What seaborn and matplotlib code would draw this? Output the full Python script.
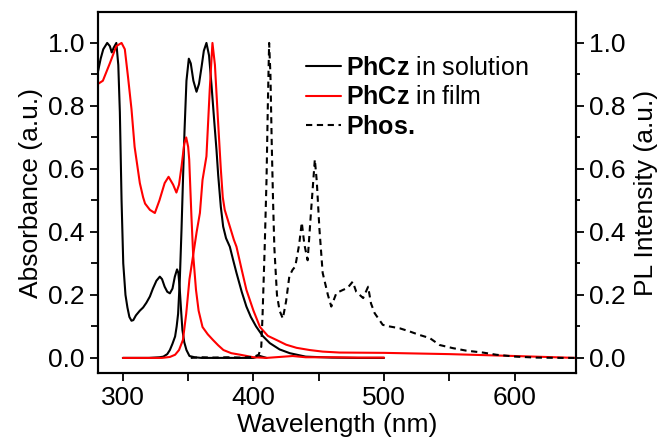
import numpy as np
import pandas as pd
import matplotlib
matplotlib.use('Agg')
import matplotlib.pyplot as plt
from matplotlib.ticker import MultipleLocator
import seaborn as sns

# PhCz 흡수 (용액)
sol_abs_x = [281, 283, 285, 288, 290, 291.5, 293, 295, 296.5, 297.7, 299, 300.3, 302, 303.5,
             305, 306.6, 308, 310, 313, 315.5, 318, 320.7, 323, 325.7, 328.3, 330, 332, 334,
             336, 338, 339.8, 341.5, 342.5, 343.6, 344.6, 345.6, 347, 348.7, 351, 355, 360,
             380, 400, 405, 410]
sol_abs_y = [0.91, 0.95, 0.98, 1.0, 0.99, 0.97, 0.985, 1.0, 0.93, 0.78, 0.5, 0.3, 0.2, 0.16,
             0.13, 0.118, 0.12, 0.135, 0.15, 0.16, 0.175, 0.195, 0.22, 0.245, 0.258, 0.25, 0.226, 0.21,
             0.205, 0.22, 0.258, 0.281, 0.27, 0.216, 0.15, 0.089, 0.05, 0.025, 0.006, 0.002, 0.0,
             0.0, 0.0, 0.006, 0.0]

# PhCz PL (용액)
sol_pl_x = [300, 320, 328, 331, 334, 336, 338, 340, 341.2, 342.3, 343.6, 344.9, 346, 347.2,
            348.7, 350.5, 352, 354, 356.4, 358.3, 360.3, 362, 364, 366, 367.8, 370, 371.7, 373,
            375, 376.8, 379, 381.9, 384.5, 387, 391, 394.6, 398, 402, 407, 412.5, 420, 427.8,
            440, 460, 480, 500]
sol_pl_y = [0.0, 0.0, 0.002, 0.004, 0.012, 0.025, 0.045, 0.068, 0.1, 0.14, 0.247, 0.406, 0.56, 0.72,
            0.88, 0.95, 0.935, 0.88, 0.845, 0.87, 0.925, 0.975, 1.0, 0.96, 0.87, 0.75, 0.66, 0.58,
            0.48, 0.417, 0.38, 0.353, 0.31, 0.27, 0.21, 0.163, 0.13, 0.1, 0.07, 0.047, 0.027, 0.015,
            0.004, 0.001, 0.0, 0.0]

# PhCz 흡수 (필름)
film_abs_x = [281, 284.7, 290, 295, 299, 301.5, 304, 306.6, 309, 313, 315.5, 317, 320.7, 324.5,
              328, 332, 335, 338.5, 341, 343, 345, 347, 348.5, 350, 350.8, 352.5, 353.8, 356,
              358, 361, 365, 369, 373, 377, 383, 390, 400, 410, 420, 430, 440, 460, 480, 500]
film_abs_y = [0.87, 0.88, 0.935, 0.99, 1.0, 0.98, 0.89, 0.79, 0.67, 0.555, 0.51, 0.49, 0.47, 0.46,
              0.5, 0.555, 0.575, 0.55, 0.525, 0.55, 0.61, 0.68, 0.70, 0.67, 0.63, 0.45, 0.33, 0.216,
              0.15, 0.098, 0.075, 0.057, 0.04, 0.025, 0.015, 0.01, 0.002, 0.0, 0.003, 0.006, 0.002, 0.002, 0.001, 0.001]

# PhCz PL (필름)
film_pl_x = [300, 330, 336, 340, 343, 346, 348.5, 351, 353.6, 356.5, 359, 361, 364, 366.5,
             368.6, 370.5, 372.7, 375, 376.5, 378, 382, 385, 387, 391, 394.6, 400, 405, 411,
             417.6, 425, 433, 443, 453, 466, 500, 550, 600, 647]
film_pl_y = [0.0, 0.0, 0.003, 0.01, 0.025, 0.057, 0.14, 0.25, 0.32, 0.4, 0.46, 0.565, 0.64, 0.85,
             1.0, 0.93, 0.765, 0.6, 0.51, 0.47, 0.416, 0.375, 0.353, 0.28, 0.216, 0.15, 0.098, 0.07,
             0.057, 0.042, 0.032, 0.025, 0.02, 0.017, 0.016, 0.012, 0.006, 0.0]

# 인광 (Phos.)
phos_x = [352, 360, 370, 380, 390, 400, 404, 406, 407, 408.6, 410, 411, 412, 413, 414, 415,
          416, 418, 420, 422.5, 425, 427.5, 430, 432, 435, 437, 439, 441.5, 444, 447, 448.5,
          450.5, 453, 457, 459.6, 463.5, 468.6, 472, 476, 478.7, 484, 487.8, 490, 492.8, 499,
          504, 512, 519.6, 527, 535, 542.5, 552.7, 563, 575.6, 586, 601, 616.5, 637, 647]
phos_y = [0.0, 0.002, 0.001, 0.002, 0.001, 0.003, 0.01, 0.036, 0.14, 0.35, 0.565, 0.8, 1.0, 0.9,
          0.68, 0.5, 0.35, 0.2, 0.15, 0.125, 0.18, 0.26, 0.28, 0.29, 0.36, 0.43, 0.36, 0.31, 0.46,
          0.63, 0.56, 0.41, 0.27, 0.2, 0.163, 0.206, 0.216, 0.222, 0.242, 0.21, 0.19, 0.226, 0.173,
          0.142, 0.105, 0.1, 0.094, 0.084, 0.073, 0.063, 0.041, 0.031, 0.023, 0.017, 0.01, 0.004,
          0.001, 0.0, 0.0]

sns.set_theme(style='ticks')
plt.rcParams['font.family'] = ['Liberation Sans', 'DejaVu Sans']
plt.rcParams['mathtext.fontset'] = 'custom'
plt.rcParams['mathtext.rm'] = 'Liberation Sans'
plt.rcParams['mathtext.bf'] = 'Liberation Sans:bold'
plt.rcParams['text.color'] = 'black'
plt.rcParams['axes.labelcolor'] = 'black'
plt.rcParams['xtick.color'] = 'black'
plt.rcParams['ytick.color'] = 'black'

fig = plt.figure(figsize=(6.67, 4.47), dpi=100)
ax = fig.add_axes([0.147, 0.1655, 0.7166, 0.8075])

lw = 1.5
sns.lineplot(x=sol_abs_x, y=sol_abs_y, ax=ax, color='black', lw=lw, sort=False)
sns.lineplot(x=sol_pl_x, y=sol_pl_y, ax=ax, color='black', lw=lw, sort=False,
             label=r'$\bf{PhCz}$ in solution')
sns.lineplot(x=film_abs_x, y=film_abs_y, ax=ax, color='red', lw=lw, sort=False)
sns.lineplot(x=film_pl_x, y=film_pl_y, ax=ax, color='red', lw=lw, sort=False,
             label=r'$\bf{PhCz}$ in film')
sns.lineplot(x=phos_x, y=phos_y, ax=ax, color='black', lw=lw, sort=False,
             linestyle=(0, (3, 2.2)), label=r'$\bf{Phos.}$')

ax.set_xlim(281, 647)
ax.set_ylim(-0.048, 1.098)
ax.xaxis.set_major_locator(MultipleLocator(100))
ax.xaxis.set_minor_locator(MultipleLocator(50))
ax.yaxis.set_major_locator(MultipleLocator(0.2))
ax.yaxis.set_minor_locator(MultipleLocator(0.1))
ax.yaxis.set_major_formatter(plt.FuncFormatter(lambda v, p: f'{v:.1f}'))
ax.tick_params(which='major', length=6, width=1.3, labelsize=19, color='black', labelcolor='black')
ax.tick_params(axis='x', which='minor', length=6, width=1.3)
ax.tick_params(axis='y', which='minor', length=5, width=1.3)
ax.set_xlabel('Wavelength (nm)', fontsize=19, labelpad=2)
ax.set_ylabel('Absorbance (a.u.)', fontsize=19, labelpad=4)
for s in ax.spines.values():
    s.set_linewidth(1.5)
    s.set_color('black')

ax2 = ax.twinx()
ax2.set_ylim(ax.get_ylim())
ax2.yaxis.set_major_locator(MultipleLocator(0.2))
ax2.yaxis.set_minor_locator(MultipleLocator(0.1))
ax2.yaxis.set_major_formatter(plt.FuncFormatter(lambda v, p: f'{v:.1f}'))
ax2.tick_params(which='major', length=6, width=1.3, labelsize=19, color='black', labelcolor='black')
ax2.tick_params(which='minor', length=3, width=1.3)
ax2.set_ylabel('PL Intensity (a.u.)', fontsize=19, labelpad=6)
for s in ax2.spines.values():
    s.set_linewidth(1.5)
    s.set_color('black')

ax.legend(loc='upper left', bbox_to_anchor=(0.415, 0.906), frameon=False, fontsize=18,
          handlelength=1.4, handletextpad=0.2, labelspacing=0.22, borderaxespad=0)

fig.savefig('out.png', dpi=100)
